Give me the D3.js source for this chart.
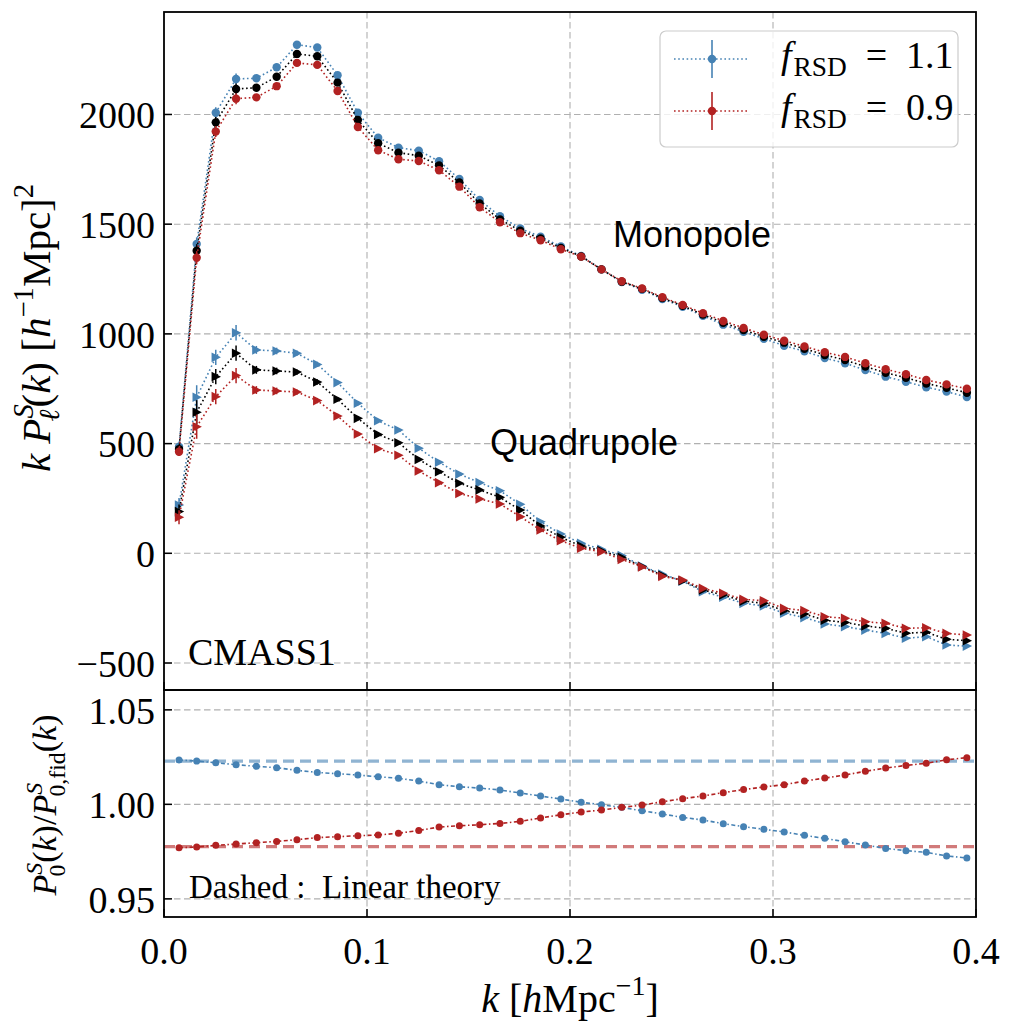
<!DOCTYPE html>
<html>
<head>
<meta charset="utf-8">
<script src="https://cdn.jsdelivr.net/npm/d3@7"></script>
<style>
  body { margin: 0; background: #fff; }
  svg { display: block; }
  text { white-space: pre; }
</style>
</head>
<body>
<div id="chart"></div>
<script>
// k bins (h/Mpc)
const kVals = [0.0074, 0.0161, 0.0255, 0.0355, 0.0455, 0.0555, 0.0655, 0.0755, 0.0855, 0.0955,
  0.1055, 0.1155, 0.1255, 0.1355, 0.1455, 0.1555, 0.1655, 0.1755, 0.1855, 0.1955,
  0.2055, 0.2155, 0.2255, 0.2355, 0.2455, 0.2555, 0.2655, 0.2755, 0.2855, 0.2955,
  0.3055, 0.3155, 0.3255, 0.3355, 0.3455, 0.3555, 0.3655, 0.3755, 0.3855, 0.3955];

// k * P_0 (monopole)
const monoHi = [486, 1410, 2008, 2162, 2165, 2215, 2318, 2305, 2179, 2008,
  1894, 1849, 1835, 1787, 1706, 1610, 1536, 1480, 1443, 1398,
  1355, 1294, 1236, 1201, 1159, 1124, 1082, 1042, 1010, 978,
  946, 921, 890, 866, 835, 805, 782, 757, 737, 712];
const monoFid = [475, 1379, 1964, 2116, 2122, 2172, 2276, 2265, 2145, 1975,
  1869, 1826, 1812, 1768, 1690, 1594, 1522, 1470, 1435, 1392,
  1353, 1294, 1238, 1205, 1163, 1128, 1088, 1051, 1018, 987,
  960, 932, 904, 881, 851, 823, 800, 774, 754, 732];
const monoLo = [463, 1347, 1922, 2072, 2078, 2129, 2235, 2226, 2107, 1943,
  1837, 1796, 1788, 1746, 1671, 1577, 1509, 1459, 1427, 1386,
  1352, 1294, 1240, 1207, 1167, 1132, 1094, 1059, 1027, 996,
  969, 943, 916, 895, 866, 839, 816, 790, 770, 750];

// k * P_2 (quadrupole)
const quadHi = [220, 711, 893, 1005, 927, 922, 912, 861, 778, 684,
  604, 562, 479, 415, 361, 322, 285, 223, 144, 88,
  46, 18, -10, -58, -95, -127, -175, -200, -228, -240,
  -273, -293, -322, -334, -350, -365, -387, -380, -418, -423];
const quadFid = [190, 643, 805, 912, 836, 831, 826, 781, 702, 615,
  542, 504, 428, 372, 319, 289, 255, 197, 124, 73,
  33, 12, -18, -60, -100, -125, -167, -190, -218, -228,
  -262, -277, -305, -315, -331, -342, -364, -360, -392, -398];
const quadLo = [164, 577, 714, 810, 744, 740, 735, 696, 626, 544,
  477, 447, 375, 322, 273, 248, 225, 167, 106, 57,
  23, 7, -28, -62, -105, -122, -160, -182, -210, -216,
  -251, -261, -289, -296, -312, -319, -342, -339, -365, -372];

// error bars
const monoErr = [20, 30, 25, 25, 15, 12, 10, 10, 8, 8,
  6, 6, 6, 5, 5, 5, 5, 5, 5, 5,
  5, 5, 5, 5, 5, 5, 5, 5, 5, 5,
  5, 5, 5, 5, 5, 5, 5, 5, 5, 5];
const quadErr = [32, 55, 35, 35, 18, 15, 12, 12, 10, 10,
  8, 8, 8, 7, 7, 6, 6, 6, 5, 5,
  5, 5, 5, 5, 5, 5, 5, 5, 5, 5,
  5, 5, 5, 5, 5, 5, 5, 5, 5, 5];

// P_0 / P_0,fid
const ratioHi = [1.0235, 1.0229, 1.0220, 1.0210, 1.0201, 1.0194, 1.0180, 1.0169, 1.0162, 1.0155,
  1.0146, 1.0138, 1.0123, 1.0104, 1.0093, 1.0086, 1.0076, 1.0060, 1.0044, 1.0028,
  1.0011, 0.9998, 0.9984, 0.9966, 0.9949, 0.9931, 0.9917, 0.9898, 0.9882, 0.9868,
  0.9854, 0.9836, 0.9820, 0.9802, 0.9785, 0.9767, 0.9755, 0.9746, 0.9727, 0.9716];
const ratioLo = [0.9771, 0.9774, 0.9783, 0.9790, 0.9797, 0.9804, 0.9813, 0.9824, 0.9829, 0.9834,
  0.9838, 0.9847, 0.9862, 0.9880, 0.9887, 0.9892, 0.9899, 0.9910, 0.9928, 0.9945,
  0.9959, 0.9970, 0.9984, 0.9996, 1.0014, 1.0030, 1.0044, 1.0062, 1.0078, 1.0092,
  1.0104, 1.0123, 1.0139, 1.0155, 1.0175, 1.0192, 1.0206, 1.0217, 1.0236, 1.0247];
const linearHi = 1.0229;
const linearLo = 0.9776;

const xTicks = [0, 0.1, 0.2, 0.3, 0.4];
const topTicks = [-500, 0, 500, 1000, 1500, 2000];
const botTicks = [0.95, 1.00, 1.05];

const BLUE = "#4682b4", RED = "#b22222", BLACK = "#000";
const SERIF = "'Liberation Serif', 'DejaVu Serif', serif";
const SANS = "'Liberation Sans', Arial, sans-serif";
const TICK_FS = 38;

const W = 1015, H = 1029;
const left = 164, right = 976;
const topP = { y0: 12, y1: 690 };
const botP = { y0: 690, y1: 917 };

const svg = d3.select("#chart").append("svg")
  .attr("width", W).attr("height", H)
  .style("font-family", SERIF);

const x = d3.scaleLinear().domain([0, 0.4]).range([left, right]);
const yTop = d3.scaleLinear().domain([-623, 2467]).range([topP.y1, topP.y0]);
const yBot = d3.scaleLinear().domain([0.9404, 1.0605]).range([botP.y1, botP.y0]);

// helper for math-like labels built from tspans
function mathText(sel, parts, size) {
  let cur = 0;
  parts.forEach(p => {
    const sh = (p.y || 0) * size;
    const ts = sel.append("tspan")
      .attr("dy", sh - cur)
      .attr("font-size", size * (p.s || 1))
      .attr("font-style", p.i ? "italic" : "normal")
      .text(p.t);
    if (p.dx) ts.attr("dx", p.dx * size);
    cur = sh;
  });
  return sel;
}

function gridAndTicks(g, y, ticks, y0, y1) {
  const grid = g.append("g").attr("stroke", "#b0b0b0").attr("stroke-width", 1.1)
    .attr("stroke-dasharray", "6.5,3.5").attr("fill", "none");
  xTicks.slice(1, -1).forEach(t => grid.append("line")
    .attr("x1", x(t)).attr("x2", x(t)).attr("y1", y0).attr("y2", y1));
  ticks.forEach(t => grid.append("line")
    .attr("x1", left).attr("x2", right).attr("y1", y(t)).attr("y2", y(t)));
}

function frame(g, y, ticks, y0, y1, fmt, showX) {
  const tk = g.append("g").attr("stroke", "#000").attr("stroke-width", 1.5);
  xTicks.forEach(t => tk.append("line")
    .attr("x1", x(t)).attr("x2", x(t)).attr("y1", y1).attr("y2", y1 - 8));
  ticks.forEach(t => tk.append("line")
    .attr("x1", left).attr("x2", left + 8).attr("y1", y(t)).attr("y2", y(t)));
  g.append("rect").attr("x", left).attr("y", y0)
    .attr("width", right - left).attr("height", y1 - y0)
    .attr("fill", "none").attr("stroke", "#000").attr("stroke-width", 1.8);
  ticks.forEach(t => g.append("text")
    .attr("x", left - 9).attr("y", y(t)).attr("dy", "0.36em")
    .attr("text-anchor", "end").attr("font-size", TICK_FS)
    .text(fmt(t).replace("-", "\u2212")));
  if (showX) {
    xTicks.forEach(t => g.append("text")
      .attr("x", x(t)).attr("y", y1 + 47).attr("text-anchor", "middle")
      .attr("font-size", TICK_FS).text(d3.format(".1f")(t)));
  }
}

const tri = "M-4.2,-4.8L5.2,0L-4.2,4.8Z";

function series(g, y, vals, errs, color, marker, r, dash) {
  const pts = kVals.map((k, i) => [k, vals[i]]);
  g.append("path").datum(pts)
    .attr("fill", "none").attr("stroke", color).attr("stroke-width", 1.6)
    .attr("stroke-dasharray", dash)
    .attr("d", d3.line().x(d => x(d[0])).y(d => y(d[1])));
  if (errs) {
    g.append("g").selectAll("line").data(pts).join("line")
      .attr("x1", d => x(d[0])).attr("x2", d => x(d[0]))
      .attr("y1", (d, i) => y(d[1] - errs[i])).attr("y2", (d, i) => y(d[1] + errs[i]))
      .attr("stroke", color).attr("stroke-width", 1.5);
  }
  if (marker === "o") {
    g.append("g").selectAll("circle").data(pts).join("circle")
      .attr("cx", d => x(d[0])).attr("cy", d => y(d[1])).attr("r", r).attr("fill", color);
  } else {
    g.append("g").selectAll("path").data(pts).join("path")
      .attr("transform", d => `translate(${x(d[0])},${y(d[1])})`)
      .attr("d", tri).attr("fill", color);
  }
}

// ---------- top panel ----------
const gt = svg.append("g");
gridAndTicks(gt, yTop, topTicks, topP.y0, topP.y1);

const dot = "1.6,2.6";
series(gt, yTop, monoHi, monoErr, BLUE, "o", 4.2, dot);
series(gt, yTop, monoFid, monoErr, BLACK, "o", 4.2, dot);
series(gt, yTop, monoLo, monoErr, RED, "o", 4.2, dot);
series(gt, yTop, quadHi, quadErr, BLUE, ">", 0, dot);
series(gt, yTop, quadFid, quadErr, BLACK, ">", 0, dot);
series(gt, yTop, quadLo, quadErr, RED, ">", 0, dot);

gt.append("text").attr("x", 613).attr("y", 247)
  .attr("font-family", SANS).attr("font-size", 36).text("Monopole");
gt.append("text").attr("x", 490).attr("y", 455)
  .attr("font-family", SANS).attr("font-size", 36).text("Quadrupole");
gt.append("text").attr("x", 188).attr("y", 665)
  .attr("font-size", 38).text("CMASS1");

// legend
const lg = gt.append("g");
lg.append("rect").attr("x", 660).attr("y", 31).attr("width", 298).attr("height", 116)
  .attr("rx", 6).attr("fill", "#fff").attr("fill-opacity", 0.8)
  .attr("stroke", "#cccccc").attr("stroke-width", 1.2);
[{ c: BLUE, v: "1.1", y: 59 }, { c: RED, v: "0.9", y: 111 }].forEach(e => {
  lg.append("line").attr("x1", 674).attr("x2", 749).attr("y1", e.y).attr("y2", e.y)
    .attr("stroke", e.c).attr("stroke-width", 1.6).attr("stroke-dasharray", dot);
  lg.append("line").attr("x1", 712).attr("x2", 712).attr("y1", e.y - 19).attr("y2", e.y + 19)
    .attr("stroke", e.c).attr("stroke-width", 1.6);
  lg.append("circle").attr("cx", 712).attr("cy", e.y).attr("r", 4.2).attr("fill", e.c);
  mathText(lg.append("text").attr("x", 781).attr("y", e.y + 9), [
    { t: "f", i: true },
    { t: "RSD", s: 0.72, y: 0.2, dx: 0.05 },
    { t: "  =  " + e.v, y: 0 }
  ], 38);
});

frame(gt, yTop, topTicks, topP.y0, topP.y1, d3.format("d"), false);

// ---------- bottom panel ----------
const gb = svg.append("g");
gridAndTicks(gb, yBot, botTicks, botP.y0, botP.y1);

[{ v: linearHi, c: BLUE }, { v: linearLo, c: RED }].forEach(l => {
  gb.append("line").attr("x1", left).attr("x2", right)
    .attr("y1", yBot(l.v)).attr("y2", yBot(l.v))
    .attr("stroke", l.c).attr("stroke-opacity", 0.6).attr("stroke-width", 3.2)
    .attr("stroke-dasharray", "11,6");
});
series(gb, yBot, ratioHi, null, BLUE, "o", 3.5, "4,2.5,1.5,2.5");
series(gb, yBot, ratioLo, null, RED, "o", 3.5, "4,2.5,1.5,2.5");

gb.append("text").attr("x", 189).attr("y", 898).attr("font-size", 33)
  .text("Dashed :  Linear theory");

frame(gb, yBot, botTicks, botP.y0, botP.y1, d3.format(".2f"), true);

// axis labels
mathText(svg.append("text").attr("x", 570).attr("y", 1012).attr("text-anchor", "middle"), [
  { t: "k", i: true },
  { t: " [" },
  { t: "h", i: true },
  { t: "Mpc" },
  { t: "\u22121", s: 0.7, y: -0.42 },
  { t: "]", y: 0 }
], 40);

mathText(svg.append("text").attr("transform", "translate(50,328) rotate(-90)")
  .attr("text-anchor", "middle"), [
  { t: "k", i: true },
  { t: " " },
  { t: "P", i: true },
  { t: "S", i: true, s: 0.7, y: -0.42 },
  { t: "\u2113", i: true, s: 0.7, y: 0.22, dx: -0.42 },
  { t: "(", y: 0, dx: 0.05 },
  { t: "k", i: true },
  { t: ") [" },
  { t: "h", i: true },
  { t: "\u22121", s: 0.7, y: -0.42 },
  { t: "Mpc]", y: 0 },
  { t: "2", s: 0.7, y: -0.42 }
], 41);

mathText(svg.append("text").attr("transform", "translate(56,805) rotate(-90)")
  .attr("text-anchor", "middle"), [
  { t: "P", i: true },
  { t: "S", i: true, s: 0.7, y: -0.42 },
  { t: "0", s: 0.7, y: 0.25, dx: -0.4 },
  { t: "(", y: 0, dx: 0.05 },
  { t: "k", i: true },
  { t: ")/" },
  { t: "P", i: true },
  { t: "S", i: true, s: 0.7, y: -0.42 },
  { t: "0,fid", s: 0.7, y: 0.25, dx: -0.4 },
  { t: "(", y: 0 },
  { t: "k", i: true },
  { t: ")" }
], 34);
</script>
</body>
</html>
